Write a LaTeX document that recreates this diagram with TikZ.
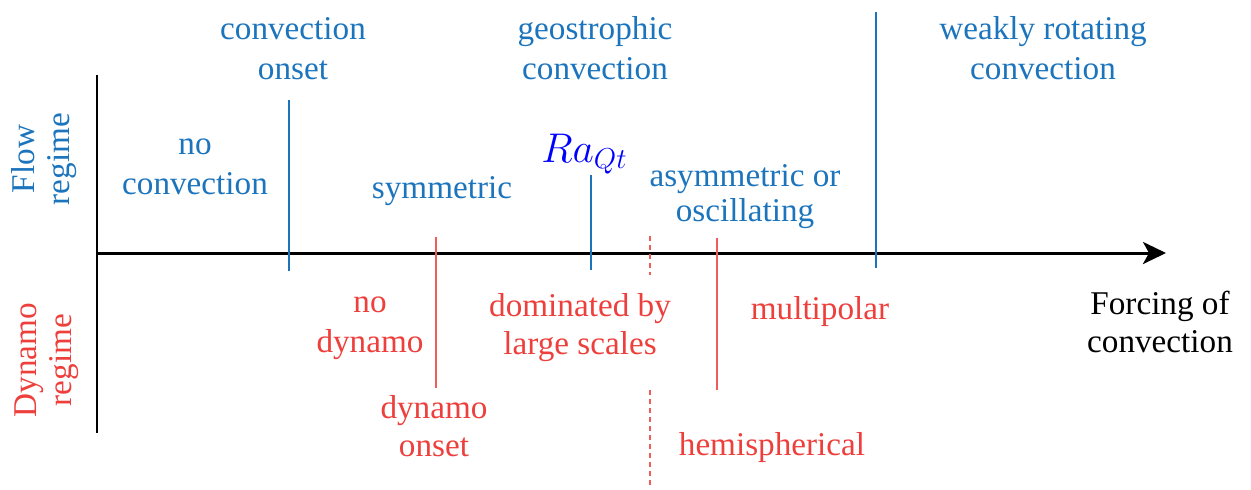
\documentclass[tikz,border=0pt]{standalone}
\usepackage{fontspec}
\setmainfont{Liberation Serif}
\usetikzlibrary{arrows.meta}
\definecolor{flowblue}{RGB}{28,117,188}
\definecolor{dynred}{RGB}{237,63,59}
\tikzset{
  lbl/.style={font=\fontsize{16.6}{20}\selectfont, inner sep=0pt, align=center, anchor=base},
  flowlbl/.style={lbl, text=flowblue},
  dynlbl/.style={lbl, text=dynred},
  sidelbl/.style={font=\fontsize{16.6}{17.5}\selectfont, inner sep=0pt, align=center, rotate=90},
  flowline/.style={draw=flowblue, line width=0.7pt},
  dynline/.style={draw=dynred!85, line width=0.7pt},
  dynDash/.style={dynline, dash pattern=on 2.5pt off 2pt},
}
\begin{document}
\begin{tikzpicture}[x=0.5pt, y=-0.5pt]
\useasboundingbox (0,0) rectangle (1251,489);
% axes
\coordinate (ax0) at (97,253);
\coordinate (ax1) at (1166,253);
\coordinate (vt) at (97,75);
\coordinate (vb) at (97,433);
\draw[line width=0.8pt] (vt) -- (vb);
\draw[line width=1.5pt, -{Stealth[length=11.5pt, width=11pt, inset=3pt]}] (ax0) -- (ax1);
% flow lines
\coordinate (b1t) at (289,100); \coordinate (b1b) at (289,271);
\coordinate (b2t) at (591,175); \coordinate (b2b) at (591,270);
\coordinate (b3t) at (876,12);  \coordinate (b3b) at (876,268);
\draw[flowline] (b1t) -- (b1b);
\draw[flowline] (b2t) -- (b2b);
\draw[flowline] (b3t) -- (b3b);
% dynamo lines
\coordinate (r1t) at (436,237); \coordinate (r1b) at (436,388);
\coordinate (r2t) at (717,238); \coordinate (r2b) at (717,390);
\coordinate (d1t) at (650,236); \coordinate (d1b) at (650,275);
\coordinate (d2t) at (650,390); \coordinate (d2b) at (650,487);
\draw[dynline] (r1t) -- (r1b);
\draw[dynline] (r2t) -- (r2b);
\draw[dynDash] (d1t) -- (d1b);
\draw[dynDash] (d2t) -- (d2b);
% flow labels (anchor = baseline of last line)
\node[flowlbl] (conv onset) at (293,79) {convection\\onset};
\node[flowlbl] (geo) at (595,79) {geostrophic\\convection};
\node[flowlbl] (weak) at (1043,79) {weakly rotating\\convection};
\node[flowlbl] (noconv) at (195,194) {no\\convection};
\node[flowlbl] (sym) at (442,198) {symmetric};
\node[flowlbl] (asym) at (745,221) {asymmetric or\\[-2.5pt]oscillating};
\node[font=\fontsize{22}{26}\selectfont, text=blue, inner sep=0pt, anchor=base west] (ra) at (541,162) {$Ra_{Qt}$};
% dynamo labels
\node[dynlbl] (nodyn) at (370,352) {no\\dynamo};
\node[dynlbl] (dom) at (580,354) {dominated by\\[-1pt]large scales};
\node[dynlbl] (multi) at (820,319) {multipolar};
\node[dynlbl] (dynonset) at (434,456) {dynamo\\[-1pt]onset};
\node[dynlbl] (hemi) at (772,455) {hemispherical};
% axis label
\node[lbl] (forcing) at (1160,352) {Forcing of\\[-1pt]convection};
% side labels
\node[sidelbl, text=flowblue] (flow) at (44,159) {Flow\\regime};
\node[sidelbl, text=dynred] (dyn) at (47,360) {Dynamo\\regime};
\end{tikzpicture}
\end{document}
